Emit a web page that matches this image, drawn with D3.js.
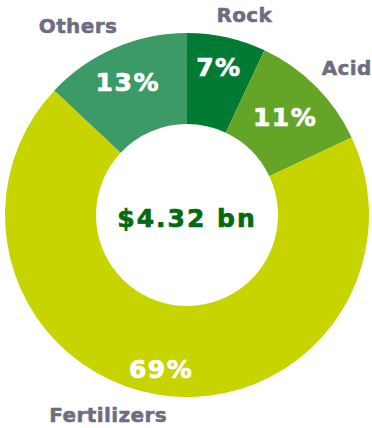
<!DOCTYPE html>
<html>
<head>
<meta charset="utf-8">
<script src="https://cdn.jsdelivr.net/npm/d3@7"></script>
<style>
  html, body { margin: 0; padding: 0; background: #fff; }
  svg { display: block; }
  text { font-family: Verdana, "DejaVu Sans", sans-serif; font-weight: bold; }
</style>
</head>
<body>
<svg id="chart" width="372" height="428"></svg>
<script>
// Market split by segment, clockwise from 12 o'clock
const categories = ["Rock", "Acid", "Fertilizers", "Others"];
const shares = [7, 11, 69, 13];
const totalLabel = "$4.32 bn";

const colors = {
  Rock: "#017B33",
  Acid: "#64A527",
  Fertilizers: "#C8D400",
  Others: "#3C9A67"
};

// Where each percentage and category name sits (radius in px, angle nudge in degrees)
const pctPlace = {
  Rock: { r: 151, da: -0.4 },
  Acid: { r: 138, da: 0.3 },
  Fertilizers: { r: 157, da: 0.5 },
  Others: { r: 145, da: -0.7 }
};
const namePlace = {
  Rock: { r: 208, a: 16 },
  Acid: { r: 217, a: 47.4 },
  Fertilizers: { r: 215, a: 201.5 },
  Others: { r: 218, a: 330 }
};

const cx = 187, cy = 215;
const outerR = 182, innerR = 91;

const svg = d3.select("#chart");
const g = svg.append("g").attr("transform", `translate(${cx},${cy})`);

const data = categories.map((c, i) => ({ name: c, value: shares[i] }));

const pie = d3.pie().value(d => d.value).sort(null);
const arc = d3.arc().innerRadius(innerR).outerRadius(outerR);
const arcs = pie(data);

g.selectAll("path.slice")
  .data(arcs)
  .join("path")
  .attr("class", "slice")
  .attr("d", arc)
  .attr("fill", d => colors[d.data.name]);

const polar = (r, deg) => {
  const a = deg * Math.PI / 180;
  return [r * Math.sin(a), -r * Math.cos(a)];
};

// Percent labels inside the ring
g.selectAll("text.pct")
  .data(arcs)
  .join("text")
  .attr("class", "pct")
  .attr("text-anchor", "middle")
  .attr("dominant-baseline", "central")
  .attr("font-size", 25)
  .attr("letter-spacing", 1.5)
  .attr("fill", "#fff")
  .attr("stroke", "#fff")
  .attr("stroke-width", 0.7)
  .attr("transform", d => {
    const mid = (d.startAngle + d.endAngle) / 2 * 180 / Math.PI + pctPlace[d.data.name].da;
    const [x, y] = polar(pctPlace[d.data.name].r, mid);
    return `translate(${x},${y})`;
  })
  .text(d => d.data.value + "%");

// Category names around the ring
g.selectAll("text.name")
  .data(arcs)
  .join("text")
  .attr("class", "name")
  .attr("text-anchor", "middle")
  .attr("dominant-baseline", "central")
  .attr("font-size", 20)
  .attr("letter-spacing", 0.4)
  .attr("fill", "#6C6D7E")
  .attr("stroke", "#6C6D7E")
  .attr("stroke-width", 0.5)
  .attr("transform", d => {
    const p = namePlace[d.data.name];
    const [x, y] = polar(p.r, p.a);
    return `translate(${x},${y})`;
  })
  .text(d => d.data.name);

// Total in the hole
g.append("text")
  .attr("text-anchor", "middle")
  .attr("x", 0)
  .attr("y", 11.5)
  .attr("font-size", 25)
  .attr("letter-spacing", 2)
  .attr("fill", "#006B12")
  .attr("stroke", "#006B12")
  .attr("stroke-width", 0.7)
  .text(totalLabel);
</script>
</body>
</html>
